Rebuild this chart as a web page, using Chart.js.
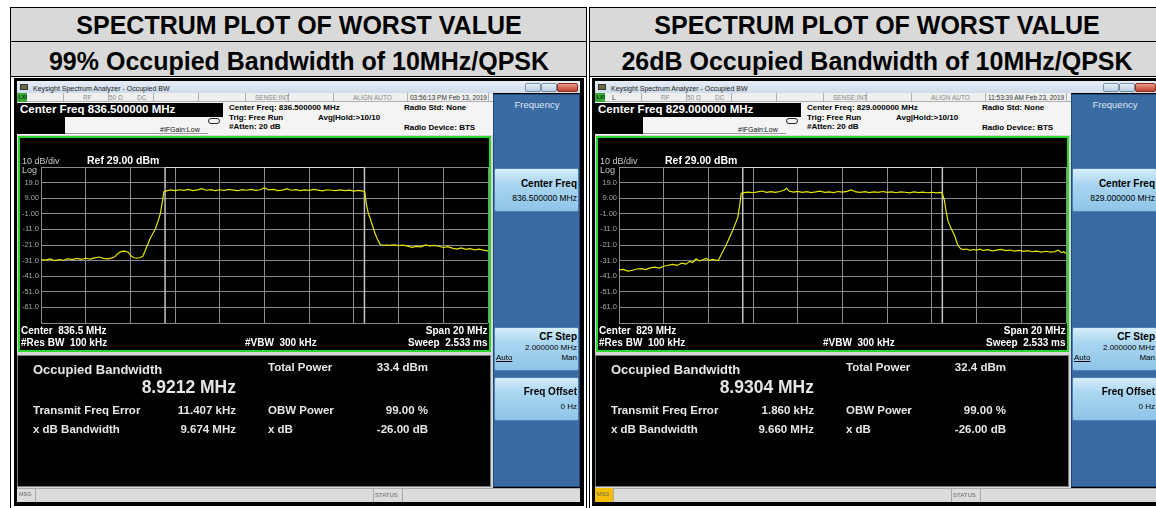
<!DOCTYPE html>
<html><head><meta charset="utf-8">
<script src="https://cdn.jsdelivr.net/npm/chart.js@4.4.1/dist/chart.umd.min.js"></script>
<style>
body{margin:0;width:1156px;height:508px;background:#fff;position:relative;overflow:hidden;font-family:"Liberation Sans",Arial,sans-serif}
.a{position:absolute;box-sizing:border-box}
.t{position:absolute;white-space:pre;line-height:1}
</style></head><body>
<script>
// ---------- data ----------
const headerTitle = 'SPECTRUM PLOT OF WORST VALUE';
const panelSubtitles = ['99% Occupied Bandwidth of 10MHz/QPSK', '26dB Occupied Bandwidth of 10MHz/QPSK'];
const centerFreqsMHz = [836.5, 829.0];
const timestamps = ['03:56:13 PM Feb 13, 2019', '11:53:39 AM Feb 23, 2019'];
const occupiedBw = ['8.9212 MHz', '8.9304 MHz'];
const freqErrors = ['11.407 kHz', '1.860 kHz'];
const xdbBandwidths = ['9.674 MHz', '9.660 MHz'];
const totalPowers = ['33.4 dBm', '32.4 dBm'];
const yTickValues = [-71, -61, -51, -41, -31, -21, -11, -1, 9, 19, 29];
const yTickLabels = ['', '-61.0', '-51.0', '-41.0', '-31.0', '-21.0', '-11.0', '-1.00', '9.00', '19.0', ''];
const xGridOffsetsMHz = [-10, -8, -6, -4, -2, 0, 2, 4, 6, 8, 10];
const obwMarkersMHz = [[-4.449, 4.472], [-4.463, 4.467]];
// trace points: [offset from center (MHz), level (dBm)]
const traceLeft = [
[-10,-30.4],[-9.8,-30.7],[-9.6,-29.9],[-9.4,-31.0],[-9.2,-30.3],[-9.0,-30.9],[-8.8,-29.8],[-8.6,-30.4],[-8.4,-29.6],[-8.2,-30.2],
[-8.0,-29.5],[-7.8,-30.1],[-7.6,-29.3],[-7.4,-28.7],[-7.2,-29.6],[-7.0,-29.9],[-6.85,-29.4],[-6.7,-28.6],[-6.55,-26.3],[-6.4,-25.1],
[-6.25,-24.9],[-6.1,-25.6],[-5.98,-27.8],[-5.85,-29.2],[-5.7,-29.5],[-5.55,-29.0],[-5.45,-28.3],[-5.35,-25.0],[-5.25,-21.5],[-5.12,-17.0],
[-5.0,-13.8],[-4.88,-10.6],[-4.76,-5.5],[-4.66,-0.8],[-4.57,6.8],[-4.5,13.2],
[-4.35,13.9],[-4.2,14.3],[-4.0,13.8],[-3.8,14.4],[-3.6,14.0],[-3.4,14.6],[-3.2,13.9],[-3.0,14.3],[-2.8,15.1],[-2.6,14.1],
[-2.4,14.5],[-2.2,13.9],[-2.0,14.4],[-1.8,14.0],[-1.6,14.6],[-1.4,14.2],[-1.2,13.8],[-1.0,14.5],[-0.8,14.1],[-0.6,14.7],
[-0.4,14.0],[-0.2,14.4],[0.0,15.6],[0.2,14.3],[0.4,14.6],[0.6,13.9],[0.8,14.2],[1.0,15.0],[1.2,14.1],[1.4,14.5],
[1.6,13.9],[1.8,14.3],[2.0,14.0],[2.2,14.6],[2.4,14.2],[2.6,13.7],[2.8,14.4],[3.0,14.1],[3.2,13.8],[3.4,14.3],
[3.6,13.9],[3.8,14.2],[4.0,13.6],[4.2,14.0],[4.35,13.7],[4.48,13.3],
[4.56,5.0],[4.64,-0.5],[4.72,-3.5],[4.83,-8.5],[4.94,-13.5],[5.05,-17.2],[5.17,-20.6],[5.3,-21.3],[5.45,-21.0],[5.6,-21.2],
[5.8,-20.9],[6.0,-21.4],[6.2,-21.1],[6.4,-21.7],[6.6,-22.5],[6.8,-21.9],[7.0,-22.2],[7.2,-20.9],[7.4,-21.6],[7.6,-21.2],
[7.8,-21.8],[8.0,-22.6],[8.2,-22.1],[8.4,-23.0],[8.6,-23.6],[8.8,-22.9],[9.0,-23.8],[9.2,-23.3],[9.4,-24.1],[9.6,-23.6],
[9.8,-24.3],[10.0,-24.8]];
const traceRight = [
[-10,-37.0],[-9.8,-36.6],[-9.6,-37.7],[-9.4,-37.2],[-9.2,-36.4],[-9.0,-36.1],[-8.8,-36.8],[-8.6,-35.7],[-8.4,-35.2],[-8.2,-35.8],
[-8.0,-34.6],[-7.8,-34.0],[-7.6,-33.4],[-7.4,-34.1],[-7.2,-32.7],[-7.0,-33.3],[-6.84,-31.5],[-6.7,-32.2],[-6.55,-29.8],[-6.4,-31.2],
[-6.25,-30.5],[-6.1,-29.6],[-5.95,-30.9],[-5.8,-30.2],[-5.67,-30.7],[-5.56,-30.9],[-5.43,-27.2],[-5.32,-24.2],[-5.21,-21.2],[-5.06,-16.3],
[-4.91,-11.6],[-4.78,-6.8],[-4.68,-3.0],[-4.61,3.5],[-4.53,12.2],
[-4.4,12.6],[-4.2,12.9],[-4.0,12.5],[-3.8,13.1],[-3.6,13.6],[-3.4,12.8],[-3.2,13.2],[-3.0,12.7],[-2.8,13.3],[-2.6,14.2],
[-2.5,15.4],[-2.4,13.6],[-2.2,12.9],[-2.0,13.4],[-1.8,12.8],[-1.6,13.2],[-1.4,12.6],[-1.2,13.0],[-1.0,13.5],[-0.8,12.7],
[-0.6,13.1],[-0.4,12.6],[-0.2,13.3],[0.0,12.9],[0.2,13.4],[0.4,14.3],[0.6,13.0],[0.8,12.7],[1.0,13.2],[1.2,12.6],
[1.4,13.1],[1.6,12.8],[1.8,13.3],[2.0,12.7],[2.2,13.0],[2.4,12.5],[2.6,13.1],[2.8,12.8],[3.0,12.4],[3.2,13.0],
[3.4,12.6],[3.6,12.9],[3.8,12.5],[4.0,12.8],[4.2,12.4],[4.35,12.7],[4.46,12.3],
[4.56,7.6],[4.63,1.0],[4.71,-5.2],[4.86,-10.5],[5.01,-14.8],[5.16,-21.2],[5.28,-23.3],[5.4,-24.0],[5.55,-23.6],[5.7,-24.4],
[5.85,-23.9],[6.0,-24.3],[6.15,-23.7],[6.3,-24.5],[6.5,-24.0],[6.7,-24.8],[6.9,-24.3],[7.1,-23.8],[7.3,-24.6],[7.5,-24.2],
[7.7,-24.9],[7.9,-24.5],[8.1,-25.1],[8.3,-24.6],[8.5,-25.3],[8.7,-24.9],[8.9,-25.5],[9.1,-25.0],[9.3,-25.6],[9.5,-25.2],
[9.65,-24.3],[9.8,-25.9],[9.9,-25.3],[10.0,-26.4]];
const traces = [traceLeft, traceRight];
const panelOffsets = [0, 578];

// ---------- helpers ----------
function box(x, y, w, h, css) {
  const d = document.createElement('div'); d.className = 'a';
  d.style.cssText = `left:${x}px;top:${y}px;width:${w}px;height:${h}px;` + (css || '');
  document.body.appendChild(d); return d;
}
function txt(x, y, s, fs, o = {}) {
  const d = document.createElement('div'); d.className = 't'; d.textContent = s;
  const tx = o.a === 'r' ? '-100%' : o.a === 'c' ? '-50%' : '0';
  d.style.cssText = `left:${x}px;top:${y}px;font-size:${fs}px;font-weight:${o.w || 'bold'};color:${o.c || '#fff'};transform:translate(${tx},-50%);` + (o.css || '');
  if (o.ff) d.style.fontFamily = o.ff;
  document.body.appendChild(d); return d;
}

// ---------- header ----------
box(10, 7, 577, 35, 'background:#d9d9d9;border:1px solid #000');
box(589, 7, 580, 35, 'background:#d9d9d9;border:1px solid #000');
box(10, 41, 577, 36, 'background:#d9d9d9;border:1px solid #000');
box(589, 41, 580, 36, 'background:#d9d9d9;border:1px solid #000');
txt(299, 25, headerTitle, 25, { c: '#000', a: 'c' });
txt(877, 25, headerTitle, 25, { c: '#000', a: 'c' });
txt(299, 61, panelSubtitles[0], 25, { c: '#000', a: 'c' });
txt(877, 61, panelSubtitles[1], 25, { c: '#000', a: 'c' });
box(10, 76, 577, 432, 'border-left:1px solid #000;border-right:1px solid #000');
box(589, 76, 580, 432, 'border-left:1px solid #000');

// ---------- panels ----------
function buildPanel(i) {
  const ox = panelOffsets[i];
  const cf = centerFreqsMHz[i];
  box(ox + 14, 78, 570, 428, 'background:#000');
  // title bar
  box(ox + 17, 81, 563, 12, 'background:linear-gradient(#e6edf6,#cfdceb)');
  box(ox + 20, 84, 8, 6, 'background:#6a6a40;border:1px solid #333');
  txt(ox + 33, 87.5, 'Keysight Spectrum Analyzer - Occupied BW', 7, { w: 'normal', c: '#1a1a1a' });
  box(ox + 525, 83, 16, 9, 'background:linear-gradient(#e8f0f8,#b9cde2);border:1px solid #7890aa;border-radius:2px');
  box(ox + 541, 83, 16, 9, 'background:linear-gradient(#e8f0f8,#b9cde2);border:1px solid #7890aa;border-radius:2px');
  box(ox + 557, 83, 21, 9, 'background:linear-gradient(#e99a8a,#c2402c);border:1px solid #8a3020;border-radius:2px');
  // content background
  box(ox + 17, 93, 476, 395, 'background:#d6d6d6');
  // status row
  box(ox + 17, 93, 476, 9, 'background:#efefef;border-bottom:1px solid #b0b0b0');
  [63, 108, 153, 198, 245, 288, 333, 407, 488].forEach(x => box(ox + x, 93, 1, 9, 'background:#b0b0b0'));
  box(ox + 17, 93, 10, 9, 'background:#39a839');
  txt(ox + 18.5, 98, 'LXI', 5.5, { c: '#0a3a0a' });
  if (i === 1) txt(ox + 34, 98, 'L', 6.5, { w: 'normal', c: '#333' });
  txt(ox + 83, 98, 'RF', 6.5, { w: 'normal', c: '#888' });
  txt(ox + 109, 98, '50 Ω', 6.5, { w: 'normal', c: '#888' });
  txt(ox + 137, 98, 'DC', 6.5, { w: 'normal', c: '#888' });
  txt(ox + 255, 98, 'SENSE:INT', 6.5, { w: 'normal', c: '#888' });
  txt(ox + 353, 98, 'ALIGN AUTO', 6.5, { w: 'normal', c: '#888' });
  txt(ox + 410, 98, timestamps[i], 6.5, { w: 'normal', c: '#333' });
  // info area
  box(ox + 17, 102, 476, 33, 'background:#f4f4f4');
  box(ox + 17, 102.5, 206, 14, 'background:#000');
  box(ox + 17, 116, 48, 18, 'background:#000');
  box(ox + 65, 133, 143, 1, 'background:#9a9a9a');
  txt(ox + 20, 109.5, 'Center Freq ' + cf.toFixed(6) + ' MHz', 11.5);
  txt(ox + 160, 129, '#IFGain:Low', 7, { w: 'normal', c: '#111' });
  box(ox + 208, 118, 12, 6, 'border:1px solid #222;border-radius:4px');
  txt(ox + 229, 108, 'Center Freq: ' + cf.toFixed(6) + ' MHz', 8, { c: '#000' });
  txt(ox + 229, 117.5, 'Trig: Free Run', 8, { c: '#000' });
  txt(ox + 229, 127, '#Atten: 20 dB', 8, { c: '#000' });
  txt(ox + 318, 118, 'Avg|Hold:>10/10', 8, { c: '#000' });
  txt(ox + 404, 108, 'Radio Std: None', 8, { c: '#000' });
  txt(ox + 404, 127.5, 'Radio Device: BTS', 8, { c: '#000' });
  // plot frame
  box(ox + 18, 136, 473, 216, 'background:#000;border:2px solid #2ad82a');
  // chart
  const cv = document.createElement('canvas');
  cv.width = 469; cv.height = 180;
  cv.style.cssText = `position:absolute;left:${ox + 20}px;top:150px;width:469px;height:180px`;
  document.body.appendChild(cv);
  const m = obwMarkersMHz[i];
  new Chart(cv, {
    type: 'line',
    data: { datasets: [
      { data: traces[i].map(p => ({ x: cf + p[0], y: p[1] })), borderColor: '#e6e600', borderWidth: 1.2, pointRadius: 0, tension: 0 },
      { data: [{ x: cf + m[0], y: -71 }, { x: cf + m[0], y: 29 }], borderColor: '#c4c4c4', borderWidth: 1.5, pointRadius: 0 },
      { data: [{ x: cf + m[1], y: -71 }, { x: cf + m[1], y: 29 }], borderColor: '#c4c4c4', borderWidth: 1.5, pointRadius: 0 },
      { data: [{ x: cf + m[0], y: 29 }, { x: cf + m[1], y: 29 }], borderColor: '#dcdcdc', borderWidth: 2, pointRadius: 0 }
    ] },
    options: {
      animation: false, responsive: false, devicePixelRatio: 1, events: [],
      layout: { padding: { top: 17, right: 1, bottom: 7, left: 0 } },
      plugins: { legend: { display: false }, tooltip: { enabled: false } },
      scales: {
        x: { type: 'linear', min: cf - 10, max: cf + 10,
          afterBuildTicks: s => { s.ticks = xGridOffsetsMHz.map(v => ({ value: cf + v })); },
          ticks: { display: false }, grid: { color: '#8a8a8a', drawTicks: false }, border: { display: false },
          afterFit: s => { s.height = 0; } },
        y: { type: 'linear', min: -71, max: 29,
          afterBuildTicks: s => { s.ticks = yTickValues.map(v => ({ value: v })); },
          ticks: { callback: v => yTickLabels[yTickValues.indexOf(v)], color: '#a8a8a8', font: { size: 7.5, family: 'Liberation Sans' }, padding: 2 },
          grid: { color: '#8a8a8a', drawTicks: false }, border: { display: false },
          afterFit: s => { s.width = 21; } }
      }
    }
  });
  txt(ox + 22, 160.5, '10 dB/div', 9, { w: 'normal', c: '#c8c8c8' });
  txt(ox + 22, 170, 'Log', 9, { w: 'normal', c: '#c8c8c8' });
  txt(ox + 87, 160, 'Ref 29.00 dBm', 10.5);
  txt(ox + 21, 331, 'Center  ' + String(cf) + ' MHz', 10);
  txt(ox + 21, 343, '#Res BW  100 kHz', 10);
  txt(ox + 245, 343, '#VBW  300 kHz', 10);
  txt(ox + 487.5, 331, 'Span 20 MHz', 10, { a: 'r' });
  txt(ox + 487.5, 343, 'Sweep  2.533 ms', 10, { a: 'r' });
  // measurement box
  box(ox + 17, 355, 474, 132, 'background:#000;border:1px solid #7a7a7a');
  const mc = '#e6e6e6';
  txt(ox + 33, 369, 'Occupied Bandwidth', 13, { c: mc });
  txt(ox + 236, 388, occupiedBw[i], 17.5, { a: 'r', c: mc });
  txt(ox + 33, 411, 'Transmit Freq Error', 11.5, { c: mc });
  txt(ox + 236, 411, freqErrors[i], 11.5, { a: 'r', c: mc });
  txt(ox + 33, 430, 'x dB Bandwidth', 11.5, { c: mc });
  txt(ox + 236, 430, xdbBandwidths[i], 11.5, { a: 'r', c: mc });
  txt(ox + 268, 368, 'Total Power', 11.5, { c: mc });
  txt(ox + 428, 368, totalPowers[i], 11.5, { a: 'r', c: mc });
  txt(ox + 268, 411, 'OBW Power', 11.5, { c: mc });
  txt(ox + 428, 411, '99.00 %', 11.5, { a: 'r', c: mc });
  txt(ox + 268, 430, 'x dB', 11.5, { c: mc });
  txt(ox + 428, 430, '-26.00 dB', 11.5, { a: 'r', c: mc });
  // side panel
  box(ox + 493, 94, 87, 393, 'background:#3a6aa2;border:1px solid #1f4a7c');
  txt(ox + 537, 105, 'Frequency', 9.5, { a: 'c', w: 'normal', c: '#dfe8f2' });
  const btn = 'background:linear-gradient(#d6eefb,#aad6f0 35%,#8fc4e7);border:1px solid #4f80b4;border-radius:2px';
  box(ox + 494, 168, 85, 44, btn);
  txt(ox + 577, 184, 'Center Freq', 10, { a: 'r', c: '#000' });
  txt(ox + 577, 198, cf.toFixed(6) + ' MHz', 8.5, { a: 'r', w: 'normal', c: '#000' });
  box(ox + 494, 327, 85, 44, btn);
  txt(ox + 577, 336.5, 'CF Step', 10, { a: 'r', c: '#000' });
  txt(ox + 577, 347.5, '2.000000 MHz', 8, { a: 'r', w: 'normal', c: '#000' });
  txt(ox + 496, 358, 'Auto', 8, { w: 'normal', c: '#000', css: 'text-decoration:underline' });
  txt(ox + 577, 358, 'Man', 8, { a: 'r', w: 'normal', c: '#000' });
  box(ox + 494, 377, 85, 44, btn);
  txt(ox + 577, 392, 'Freq Offset', 10, { a: 'r', c: '#000' });
  txt(ox + 577, 406.5, '0 Hz', 8, { a: 'r', w: 'normal', c: '#000' });
  // bottom status bar
  box(ox + 17, 488, 563, 14, 'background:#dcdcdc;border-top:1px solid #aaa');
  if (i === 1) box(ox + 17, 488, 18, 14, 'background:#f3c000');
  box(ox + 35, 488, 1, 14, 'background:#aaa');
  txt(ox + 19, 495, 'MSG', 5.5, { w: 'normal', c: '#666' });
  box(ox + 373, 488, 1, 14, 'background:#aaa');
  box(ox + 402, 488, 1, 14, 'background:#aaa');
  txt(ox + 375, 495, 'STATUS', 6, { w: 'normal', c: '#666' });
}
buildPanel(0);
buildPanel(1);
</script>
</body></html>
